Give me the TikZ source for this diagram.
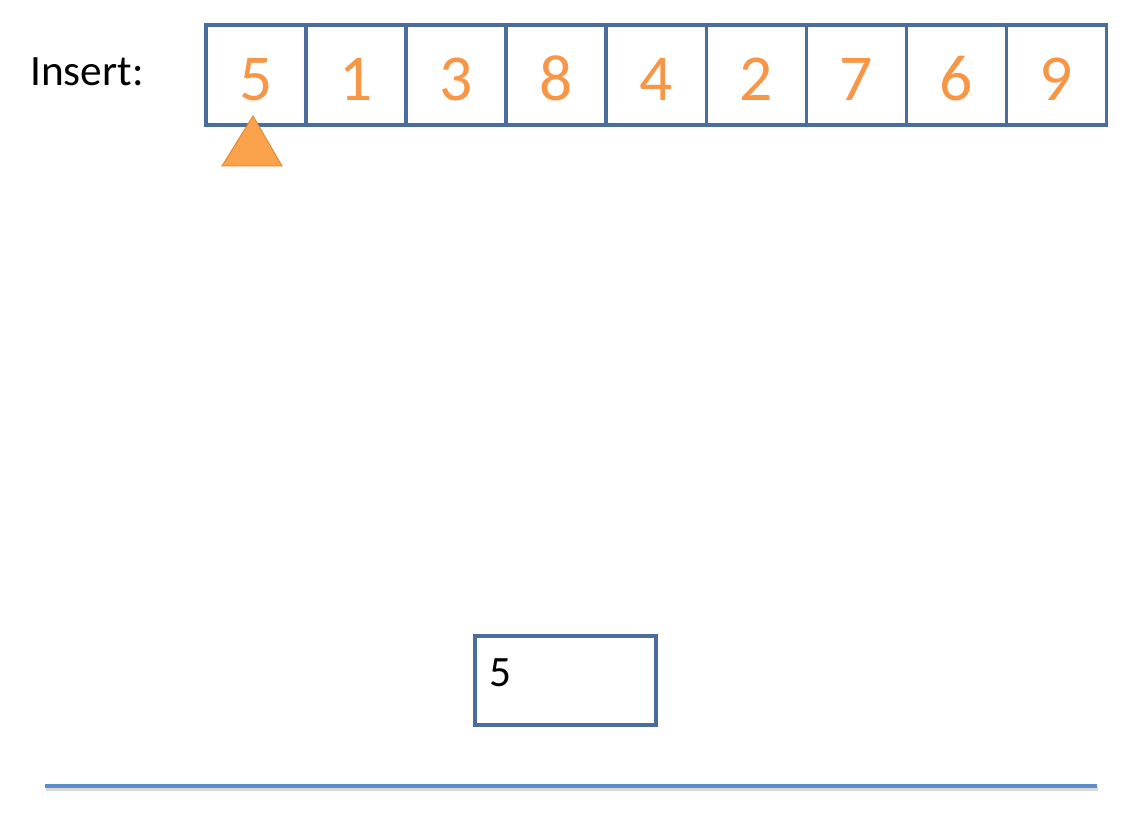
\documentclass[tikz,border=0pt]{standalone}
\usepackage{fontspec}
\setmainfont{Carlito}
\usepackage{tikz}
\usetikzlibrary{positioning}

\definecolor{cellblue}{HTML}{4A6D9E}
\definecolor{rulblue}{HTML}{5A8ECB}
\definecolor{numorange}{HTML}{F79646}
\definecolor{ptrfill}{HTML}{FBA24C}
\definecolor{ptredge}{HTML}{E8862A}

\begin{document}
\begin{tikzpicture}[
  x=0.03cm, y=-0.03cm,
  cell/.style={rectangle, draw=cellblue, line width=2.6pt, minimum width=3cm,
               minimum height=3cm, inner sep=0pt, outer sep=0pt,
               text=numorange, font=\fontsize{56}{60}\selectfont,
               text height=1.5cm, text depth=0pt},
  lbl/.style={font=\fontsize{37}{42}\selectfont, inner sep=0pt},
  ptr/.style={fill=ptrfill, draw=ptredge, line width=0.8pt, line join=miter},
  slotbox/.style={rectangle, draw=cellblue, line width=2.6pt,
                  minimum width=5.43cm, minimum height=2.67cm, inner sep=0pt},
]
  \useasboundingbox (0,0) rectangle (1146,828);

  % --- input array ---
  \node[lbl, anchor=base west] (ins) at (30,85) {Insert:};
  \node[cell] (c1) at (256,75) {5};
  \node[cell, right=0pt of c1] (c2) {1};
  \node[cell, right=0pt of c2] (c3) {3};
  \node[cell, right=0pt of c3] (c4) {8};
  \node[cell, right=0pt of c4] (c5) {4};
  \node[cell, right=0pt of c5] (c6) {2};
  \node[cell, right=0pt of c6] (c7) {7};
  \node[cell, right=0pt of c7] (c8) {6};
  \node[cell, right=0pt of c8] (c9) {9};

  % pointer under the first cell
  \draw[ptr] (222,166) -- (253,116) -- (282,166) -- cycle;

  % --- current slot ---
  \node[slotbox] (slot) at (565.5,680.5) {};
  \node[lbl, anchor=base west] (val) at (489,686) {5};

  % --- base line ---
  \draw[black!25, line width=2.6pt, opacity=0.6] (46,789) -- (1098,789);
  \draw[rulblue, line width=2.8pt] (45,786) -- (1097,786);
\end{tikzpicture}
\end{document}
